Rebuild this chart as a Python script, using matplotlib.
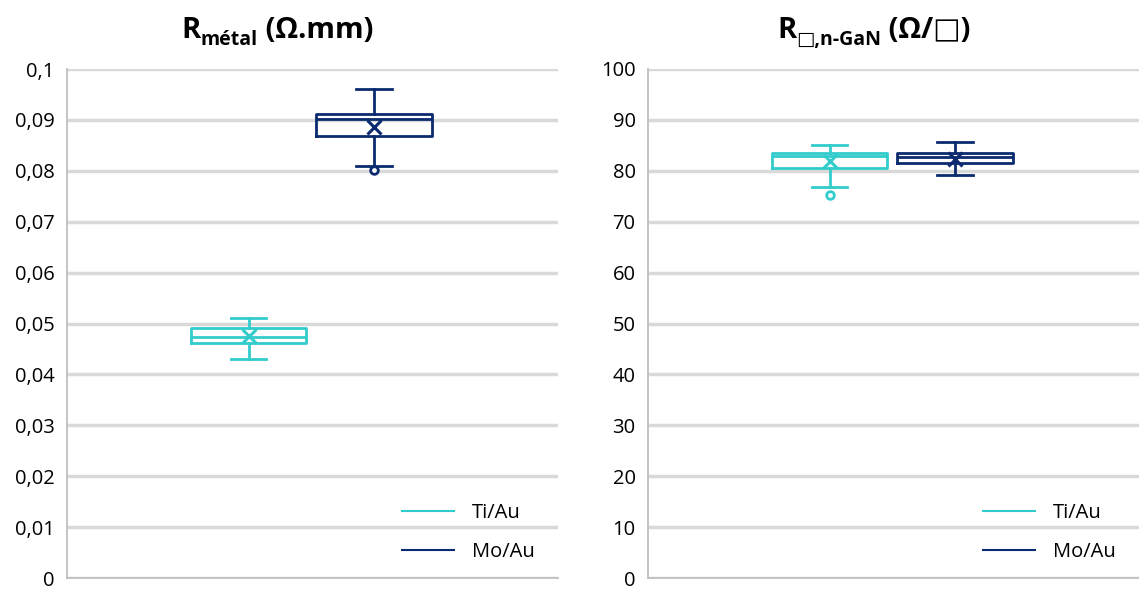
import numpy as np
import matplotlib.pyplot as plt

# Couleurs des séries
c_ti = '#33CCCC'
c_mo = '#0B2A6F'
grid_c = '#D9D9D9'

series = ['Ti/Au', 'Mo/Au']
positions = [0.37, 0.625]

# R métal (Ohm.mm) : [whislo, q1, med, q3, whishi, mean]
rmet_ti = [0.043, 0.0462, 0.0473, 0.0491, 0.051, 0.0475]
rmet_mo = [0.081, 0.0868, 0.0902, 0.0912, 0.096, 0.0887]
rmet_fliers = [[], [0.0801]]

# R carré n-GaN (Ohm/carré)
rsq_ti = [76.8, 80.6, 82.9, 83.5, 85.1, 81.9]
rsq_mo = [79.2, 81.5, 82.7, 83.5, 85.6, 82.4]
rsq_fliers = [[75.3], []]

left_ticks = np.arange(0, 0.1001, 0.01)
left_labels = ['0', '0,01', '0,02', '0,03', '0,04', '0,05', '0,06', '0,07', '0,08', '0,09', '0,1']
right_ticks = np.arange(0, 101, 10)
right_labels = [str(v) for v in right_ticks]

plt.rcParams['font.family'] = ['Open Sans', 'DejaVu Sans']


def stats(vals, fl, label):
    return dict(whislo=vals[0], q1=vals[1], med=vals[2], q3=vals[3],
                whishi=vals[4], mean=vals[5], fliers=fl, label=label)


def draw(ax, data, fliers, ticks, labels, ymax):
    for i, (vals, col) in enumerate(zip(data, [c_ti, c_mo])):
        st = [stats(vals, fliers[i], series[i])]
        lp = dict(color=col, linewidth=2)
        ax.bxp(st, positions=[positions[i]], widths=0.235, capwidths=0.072,
               showmeans=True, patch_artist=False,
               boxprops=lp, whiskerprops=lp, capprops=lp, medianprops=lp,
               meanprops=dict(marker='x', markeredgecolor=col, markersize=10,
                              markeredgewidth=2.2),
               flierprops=dict(marker='o', markerfacecolor='white',
                               markeredgecolor=col, markersize=5.5,
                               markeredgewidth=2))
        ax.plot([], [], color=col, linewidth=1.5, label=series[i])
    ax.set_xlim(0, 1)
    ax.set_ylim(0, ymax)
    ax.set_yticks(ticks)
    ax.set_yticklabels(labels, fontsize=14.5)
    ax.set_xticks([])
    ax.tick_params(axis='y', length=0, pad=9)
    ax.grid(axis='y', color=grid_c, linewidth=2.5)
    ax.set_axisbelow(True)
    for s in ['top', 'right']:
        ax.spines[s].set_visible(False)
    for s in ['left', 'bottom']:
        ax.spines[s].set_color('#BFBFBF')
        ax.spines[s].set_linewidth(1.3)
    ax.legend(loc='lower right', bbox_to_anchor=(0.99, -0.005), frameon=False,
              fontsize=14.5, handlelength=2.6, handletextpad=0.9, labelspacing=0.95)


fig = plt.figure(figsize=(11.39, 5.91), dpi=100)
ax1 = fig.add_axes([67 / 1139, 13 / 591, 491 / 1139, 509 / 591])
ax2 = fig.add_axes([648 / 1139, 13 / 591, 491 / 1139, 509 / 591])

draw(ax1, [rmet_ti, rmet_mo], rmet_fliers, left_ticks, left_labels, 0.1)
draw(ax2, [rsq_ti, rsq_mo], rsq_fliers, right_ticks, right_labels, 100)


# titres composés (R + indice + unité)
def chain_title(xc, sub, rest):
    r = fig.text(0, 0, 'R', fontsize=21, fontweight='bold')
    s = fig.text(0, 0, sub, fontsize=14, fontweight='bold')
    u = fig.text(0, 0, ' ' + rest, fontsize=21, fontweight='bold')
    fig.canvas.draw()
    rend = fig.canvas.get_renderer()
    wr = r.get_window_extent(rend).width
    ws = s.get_window_extent(rend).width
    wu = u.get_window_extent(rend).width
    x = xc - (wr + ws + wu) / 2
    yb = 591 - 38
    r.set_position((x / 1139, yb / 591))
    s.set_position(((x + wr) / 1139, (yb - 7) / 591))
    u.set_position(((x + wr + ws) / 1139, yb / 591))
    for t in (r, s, u):
        t.set_va('baseline')


chain_title(277, 'métal', '(Ω.mm)')
chain_title(874, '□,n-GaN', '(Ω/□)')

fig.savefig('out.png', dpi=100)
